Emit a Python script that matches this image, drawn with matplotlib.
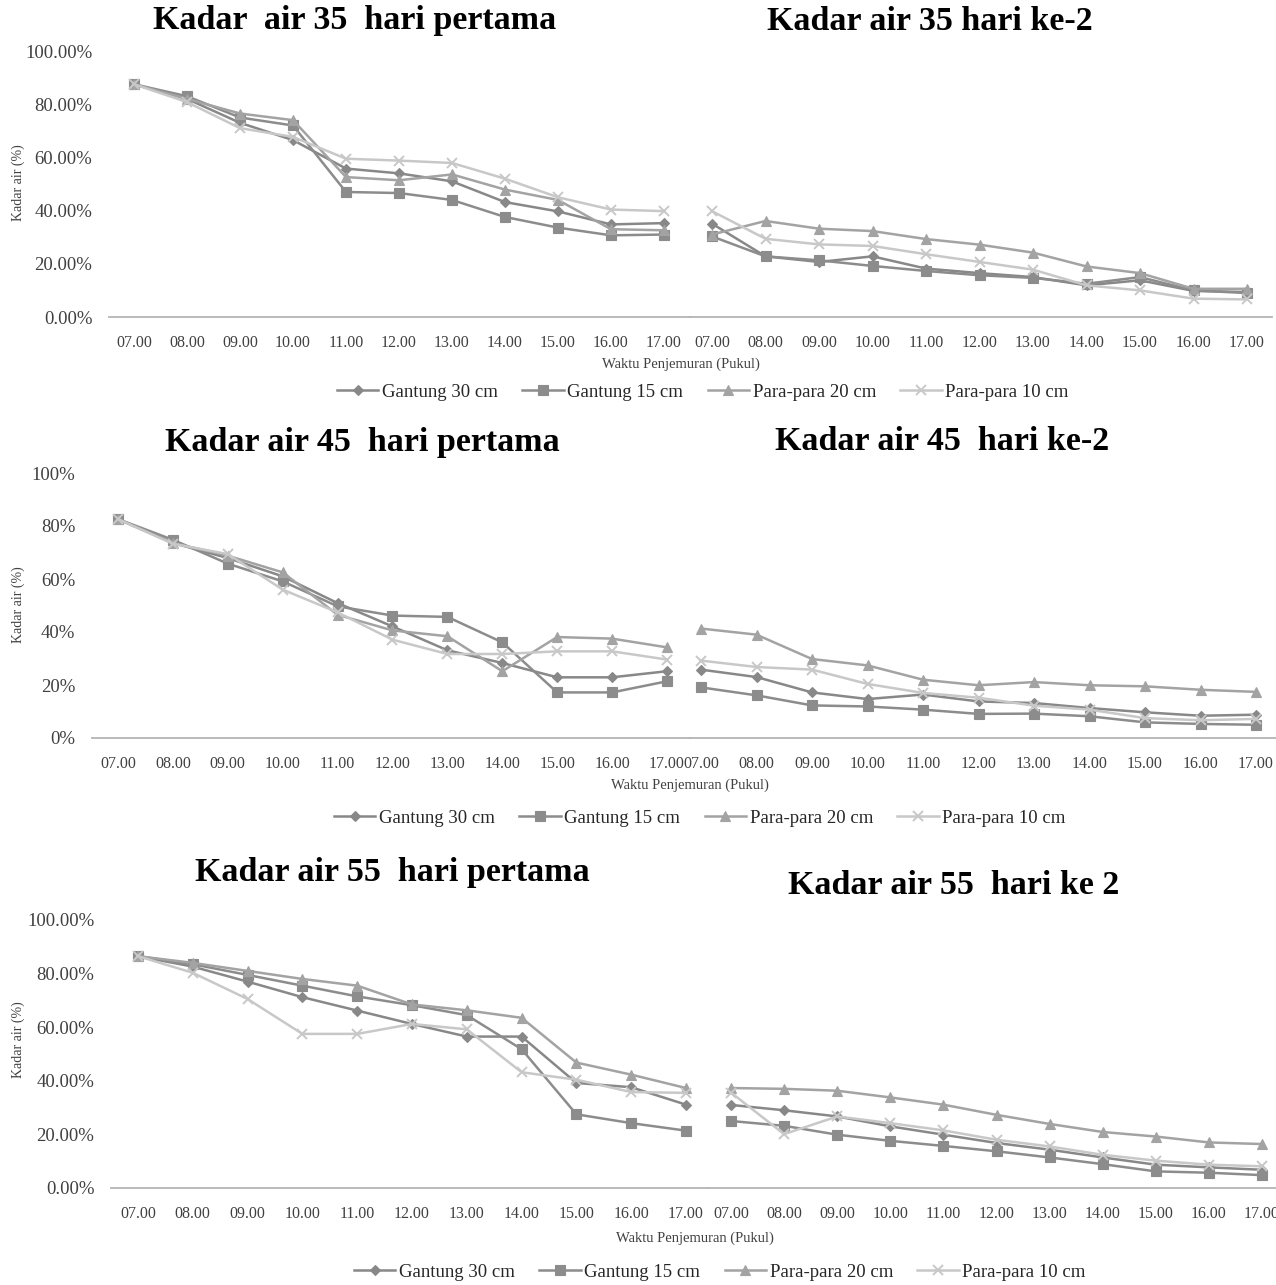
import matplotlib
matplotlib.use("Agg")
import matplotlib.pyplot as plt
from matplotlib.ticker import FuncFormatter

plt.rcParams['font.family'] = ['Liberation Serif', 'DejaVu Serif']

hours = ["07.00", "08.00", "09.00", "10.00", "11.00", "12.00",
         "13.00", "14.00", "15.00", "16.00", "17.00"]
series_names = ["Gantung 30 cm", "Gantung 15 cm", "Para-para 20 cm", "Para-para 10 cm"]

# moisture content (%)
# 35 days, day 1 / day 2
g30_35_d1 = [87.5, 82.0, 73.0, 66.5, 55.8, 54.0, 51.0, 43.2, 39.7, 34.8, 35.3]
g15_35_d1 = [87.5, 83.0, 75.0, 72.0, 47.0, 46.6, 44.0, 37.6, 33.6, 30.7, 31.0]
p20_35_d1 = [87.5, 82.0, 76.5, 74.0, 52.6, 51.4, 53.6, 47.9, 44.0, 33.0, 32.6]
p10_35_d1 = [87.5, 80.8, 71.0, 67.7, 59.5, 58.8, 57.9, 52.0, 45.0, 40.4, 39.8]
g30_35_d2 = [35.1, 22.8, 20.7, 22.8, 18.2, 16.5, 15.0, 11.9, 13.8, 9.8, 9.4]
g15_35_d2 = [30.3, 22.8, 21.3, 19.2, 17.3, 15.7, 14.7, 12.5, 15.0, 10.0, 9.0]
p20_35_d2 = [31.0, 36.1, 33.2, 32.3, 29.3, 27.2, 24.2, 19.0, 16.5, 10.6, 10.6]
p10_35_d2 = [39.8, 29.4, 27.3, 26.7, 23.6, 20.7, 17.8, 11.9, 10.0, 6.9, 6.6]

# 45 days
g30_45_d1 = [82.6, 73.6, 67.9, 61.0, 50.9, 42.1, 33.1, 28.3, 22.9, 22.9, 25.2]
g15_45_d1 = [82.6, 74.8, 65.8, 59.1, 49.7, 46.2, 45.7, 36.1, 17.2, 17.2, 21.4]
p20_45_d1 = [82.6, 73.6, 68.8, 62.5, 46.5, 40.6, 38.4, 25.2, 38.1, 37.5, 34.2]
p10_45_d1 = [82.6, 73.3, 69.4, 56.0, 47.4, 37.1, 31.7, 31.7, 32.7, 32.7, 29.6]
g30_45_d2 = [25.8, 23.0, 17.2, 14.7, 16.4, 13.8, 13.2, 11.3, 9.7, 8.4, 8.8]
g15_45_d2 = [19.1, 16.1, 12.3, 11.9, 10.7, 9.1, 9.2, 8.2, 5.9, 5.3, 5.0]
p20_45_d2 = [41.3, 39.0, 29.8, 27.4, 22.0, 19.9, 21.1, 19.9, 19.5, 18.2, 17.4]
p10_45_d2 = [29.2, 26.8, 25.8, 20.4, 17.0, 15.2, 12.2, 10.7, 7.5, 6.7, 7.2]

# 55 days
g30_55_d1 = [86.5, 82.6, 77.0, 71.2, 66.2, 61.2, 56.5, 56.5, 39.2, 37.6, 31.1]
g15_55_d1 = [86.5, 83.5, 79.5, 75.5, 71.5, 68.2, 64.5, 51.8, 27.5, 24.2, 21.4]
p20_55_d1 = [86.5, 84.0, 81.0, 78.0, 75.5, 68.5, 66.3, 63.5, 46.8, 42.3, 37.3]
p10_55_d1 = [86.5, 80.3, 70.5, 57.5, 57.5, 61.2, 59.2, 43.2, 40.4, 35.8, 35.5]
g30_55_d2 = [31.0, 29.0, 26.7, 23.0, 19.9, 16.8, 14.3, 11.4, 8.7, 7.7, 6.8]
g15_55_d2 = [25.0, 23.2, 19.9, 17.6, 15.7, 13.7, 11.4, 8.9, 6.2, 5.7, 4.8]
p20_55_d2 = [37.3, 37.0, 36.3, 33.8, 31.1, 27.3, 23.9, 20.9, 19.2, 17.0, 16.4]
p10_55_d2 = [35.6, 20.1, 26.7, 24.2, 21.5, 18.0, 15.5, 12.4, 10.2, 8.7, 8.1]

colors = ['#888888', '#8c8c8c', '#a3a3a3', '#c8c8c8']
markers = ['D', 's', '^', 'x']
msizes = [5.5, 6.5, 6.5, 6.5]

W, H = 1276, 1285
fig = plt.figure(figsize=(W / 100, H / 100), dpi=100)


def px_axes(x0, x1, y_top, y_bot):
    return fig.add_axes([x0 / W, 1 - y_bot / H, (x1 - x0) / W, (y_bot - y_top) / H])


def draw(ax, data, c0, c10, x0, x1, ylabels, fmt):
    step = (c10 - c0) / 10
    ax.set_xlim((x0 - c0) / step, (x1 - c0) / step)
    ax.set_ylim(0, 100)
    lines = []
    for vals, col, mk, ms in zip(data, colors, markers, msizes):
        ln, = ax.plot(range(11), vals, color=col, marker=mk, markersize=ms,
                      linewidth=1.8, markeredgewidth=1.4 if mk == 'x' else 0.8,
                      clip_on=False)
        lines.append(ln)
    for s in ['top', 'right', 'left']:
        ax.spines[s].set_visible(False)
    ax.spines['bottom'].set_color('#b4b4b4')
    ax.spines['bottom'].set_linewidth(1.3)
    ax.set_xticks(range(11))
    ax.set_xticklabels(hours, fontsize=11.5, color='#404040')
    ax.tick_params(axis='x', length=0, pad=13)
    ax.set_yticks(range(0, 101, 20))
    if ylabels:
        ax.yaxis.set_major_formatter(FuncFormatter(lambda v, p: fmt.format(v)))
        ax.tick_params(axis='y', length=0, pad=12, labelsize=13.5, labelcolor='#404040')
    else:
        ax.tick_params(axis='y', length=0, labelleft=False)
    ax.patch.set_alpha(0)
    return lines


rows = [
    dict(d1=[g30_35_d1, g15_35_d1, p20_35_d1, p10_35_d1],
         d2=[g30_35_d2, g15_35_d2, p20_35_d2, p10_35_d2],
         yt=51, yb=317, left=(109, 690, 134, 664), right=(690, 1272, 712, 1247),
         fmt="{:.2f}%",
         t1=("Kadar  air 35  hari pertama", 355, 21), t2=("Kadar air 35 hari ke-2", 930, 21),
         xl=(681, 364), leg=(703, 392), yl=(18, 183)),
    dict(d1=[g30_45_d1, g15_45_d1, p20_45_d1, p10_45_d1],
         d2=[g30_45_d2, g15_45_d2, p20_45_d2, p10_45_d2],
         yt=473, yb=738, left=(92, 690, 118, 667), right=(690, 1276, 701, 1256),
         fmt="{:.0f}%",
         t1=("Kadar air 45  hari pertama", 362, 443), t2=("Kadar air 45  hari ke-2", 942, 441),
         xl=(690, 785), leg=(700, 818), yl=(18, 605)),
    dict(d1=[g30_55_d1, g15_55_d1, p20_55_d1, p10_55_d1],
         d2=[g30_55_d2, g15_55_d2, p20_55_d2, p10_55_d2],
         yt=920, yb=1188, left=(111, 708, 138, 686), right=(708, 1276, 731, 1262),
         fmt="{:.2f}%",
         t1=("Kadar air 55  hari pertama", 392, 873), t2=("Kadar air 55  hari ke 2", 954, 886),
         xl=(695, 1238), leg=(720, 1272), yl=(18, 1040)),
]

for r in rows:
    x0, x1, c0, c10 = r['left']
    ax1 = px_axes(x0, x1, r['yt'], r['yb'])
    lines = draw(ax1, r['d1'], c0, c10, x0, x1, True, r['fmt'])
    x0, x1, c0, c10 = r['right']
    ax2 = px_axes(x0, x1, r['yt'], r['yb'])
    draw(ax2, r['d2'], c0, c10, x0, x1, False, r['fmt'])

    for txt, tx, ty in (r['t1'], r['t2']):
        fig.text(tx / W, 1 - ty / H, txt, fontsize=24.5, fontweight='bold',
                 ha='center', va='center')
    fig.text(r['xl'][0] / W, 1 - r['xl'][1] / H, "Waktu Penjemuran (Pukul)",
             fontsize=10.5, ha='center', va='center', color='#404040')
    fig.text(r['yl'][0] / W, 1 - r['yl'][1] / H, "Kadar air (%)", fontsize=10,
             rotation=90, ha='center', va='center', color='#404040')
    fig.legend(lines, series_names, loc='center', ncol=4, frameon=False,
               bbox_to_anchor=(r['leg'][0] / W, 1 - r['leg'][1] / H),
               fontsize=13.5, handlelength=2.2, columnspacing=1.3,
               handletextpad=0.2, labelcolor='#262626')

fig.savefig("out.png", dpi=100)
